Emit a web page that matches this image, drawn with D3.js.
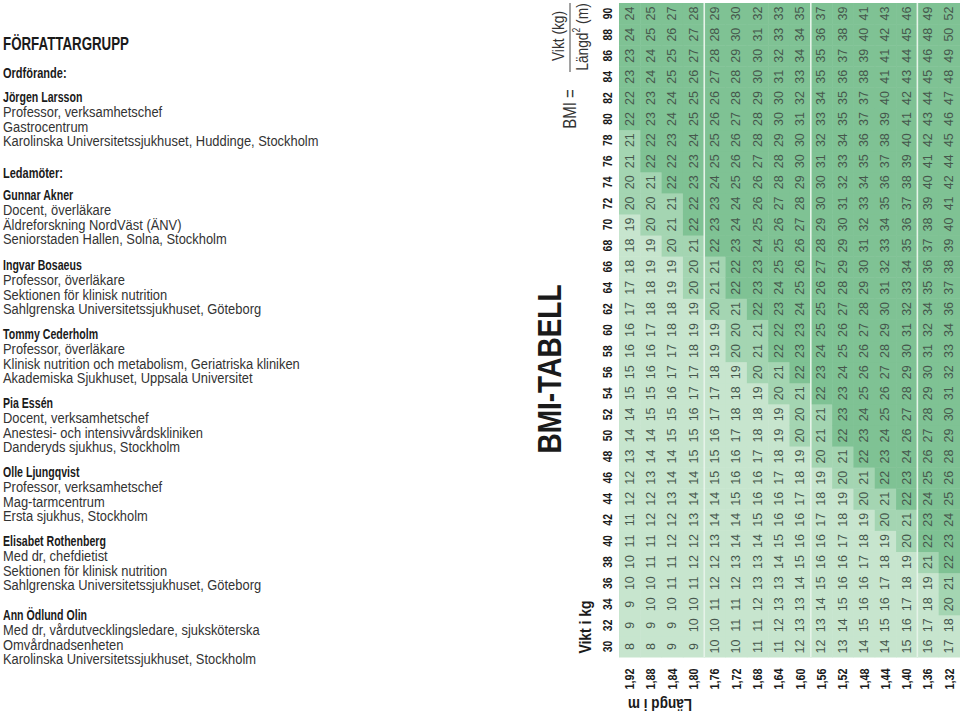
<!DOCTYPE html>
<html><head><meta charset="utf-8">
<script src="https://cdn.jsdelivr.net/npm/d3@7"></script>
<style>
html,body{margin:0;padding:0;background:#fff;}
svg{display:block;}
</style></head><body>
<svg id="c" width="960" height="713"></svg>
<script>
// ---- data ----
const heights = ["1,92","1,88","1,84","1,80","1,76","1,72","1,68","1,64","1,60","1,56","1,52","1,48","1,44","1,40","1,36","1,32"];
const weights = [30,32,34,36,38,40,42,44,46,48,50,52,54,56,58,60,62,64,66,68,70,72,74,76,78,80,82,84,86,88,90];
const r192 = [8,9,9,10,10,11,11,12,12,13,14,14,15,15,16,16,17,17,18,18,19,20,20,21,21,22,22,23,23,24,24];
const r188 = [8,9,10,10,11,11,12,12,13,14,14,15,15,16,16,17,18,18,19,19,20,20,21,22,22,23,23,24,24,25,25];
const r184 = [9,9,10,11,11,12,12,13,14,14,15,15,16,17,17,18,18,19,19,20,21,21,22,22,23,24,24,25,25,26,27];
const r180 = [9,10,10,11,12,12,13,14,14,15,15,16,17,17,18,19,19,20,20,21,22,22,23,23,24,25,25,26,27,27,28];
const r176 = [10,10,11,12,12,13,14,14,15,15,16,17,17,18,19,19,20,21,21,22,23,23,24,25,25,26,26,27,28,28,29];
const r172 = [10,11,11,12,13,14,14,15,16,16,17,18,18,19,20,20,21,22,22,23,24,24,25,26,26,27,28,28,29,30,30];
const r168 = [11,11,12,13,13,14,15,16,16,17,18,18,19,20,21,21,22,23,23,24,25,26,26,27,28,28,29,30,30,31,32];
const r164 = [11,12,13,13,14,15,16,16,17,18,19,19,20,21,22,22,23,24,25,25,26,27,28,28,29,30,30,31,32,33,33];
const r160 = [12,13,13,14,15,16,16,17,18,19,20,20,21,22,23,23,24,25,26,26,27,28,29,30,30,31,32,33,34,34,35];
const r156 = [12,13,14,15,16,16,17,18,19,20,21,21,22,23,24,25,25,26,27,28,29,30,30,31,32,33,34,35,35,36,37];
const r152 = [13,14,15,16,16,17,18,19,20,21,22,23,23,24,25,26,27,28,29,29,30,31,32,33,34,35,35,36,37,38,39];
const r148 = [14,15,16,16,17,18,19,20,21,22,23,24,25,26,26,27,28,29,30,31,32,33,34,35,36,37,37,38,39,40,41];
const r144 = [14,15,16,17,18,19,20,21,22,23,24,25,26,27,28,29,30,31,32,33,34,35,36,37,38,39,40,41,41,42,43];
const r140 = [15,16,17,18,19,20,21,22,23,24,26,27,28,29,30,31,32,33,34,35,36,37,38,39,40,41,42,43,44,45,46];
const r136 = [16,17,18,19,21,22,23,24,25,26,27,28,29,30,31,32,34,35,36,37,38,39,40,41,42,43,44,45,46,48,49];
const r132 = [17,18,20,21,22,23,24,25,26,28,29,30,31,32,33,34,36,37,38,39,40,41,42,44,45,46,47,48,49,50,52];
const bmiRows = [r192,r188,r184,r180,r176,r172,r168,r164,r160,r156,r152,r148,r144,r140,r136,r132];
const bandLimits = [20, 22];
const groupStarts = ["1,76","1,56","1,36"];

const title = "FÖRFATTARGRUPP";
const chairLabel = "Ordförande:";
const memberLabel = "Ledamöter:";
const chair = ["Jörgen Larsson","Professor, verksamhetschef","Gastrocentrum","Karolinska Universitetssjukhuset, Huddinge, Stockholm"];
const members = [
  ["Gunnar Akner","Docent, överläkare","Äldreforskning NordVäst (ÄNV)","Seniorstaden Hallen, Solna, Stockholm"],
  ["Ingvar Bosaeus","Professor, överläkare","Sektionen för klinisk nutrition","Sahlgrenska Universitetssjukhuset, Göteborg"],
  ["Tommy Cederholm","Professor, överläkare","Klinisk nutrition och metabolism, Geriatriska kliniken","Akademiska Sjukhuset, Uppsala Universitet"],
  ["Pia Essén","Docent, verksamhetschef","Anestesi- och intensivvårdskliniken","Danderyds sjukhus, Stockholm"],
  ["Olle Ljungqvist","Professor, verksamhetschef","Mag-tarmcentrum","Ersta sjukhus, Stockholm"],
  ["Elisabet Rothenberg","Med dr, chefdietist","Sektionen för klinisk nutrition","Sahlgrenska Universitetssjukhuset, Göteborg"],
  ["Ann Ödlund Olin","Med dr, vårdutvecklingsledare, sjuksköterska","Omvårdnadsenheten","Karolinska Universitetssjukhuset, Stockholm"]
];

// ---- drawing ----
const SANS = "'Liberation Sans',Arial,sans-serif";
const svg = d3.select("#c");

function leftText(y, txt, size, bold, sx, fill){
  svg.append("text")
    .attr("transform", `translate(3,${y}) scale(${sx},1)`)
    .attr("font-family", SANS).attr("font-size", size)
    .attr("font-weight", bold ? "bold" : "normal")
    .attr("fill", fill).text(txt);
}
leftText(49.5, title, 18, true, 0.74, "#1a1a1a");
leftText(78, chairLabel, 14.5, true, 0.76, "#1a1a1a");
leftText(178, memberLabel, 14.5, true, 0.76, "#1a1a1a");
const blockTops = [102, 200, 270, 339, 408, 477, 546, 620];
const blocks = [chair].concat(members);
blocks.forEach((b,bi)=>{
  b.forEach((line,li)=>{
    const bold = li===0;
    leftText(blockTops[bi] + li*14.8, line, 14.5, bold, bold ? 0.73 : 0.89, bold ? "#1a1a1a" : "#333");
  });
});

// table
const x = d3.scaleBand().domain(heights).range([619, 960]);
const y = d3.scaleBand().domain(weights.slice().reverse()).range([3, 657]);
const color = d3.scaleThreshold().domain(bandLimits).range(["#c7e5ce","#a4d5b2","#7fc294"]);

const cells = [];
heights.forEach((h,i)=>weights.forEach((w,j)=>cells.push({h, w, v: bmiRows[i][j]})));

const tg = svg.append("g");
tg.selectAll("rect.cell").data(cells).join("rect").attr("class","cell")
  .attr("x", d=>x(d.h)).attr("y", d=>y(d.w))
  .attr("width", x.bandwidth()+0.5).attr("height", y.bandwidth()+0.5)
  .attr("fill", d=>color(d.v));

tg.selectAll("line.sep").data(groupStarts).join("line").attr("class","sep")
  .attr("x1", d=>x(d)).attr("x2", d=>x(d)).attr("y1", 3).attr("y2", 657)
  .attr("stroke","#e6f3e9").attr("stroke-width",1.6);

tg.selectAll("text.val").data(cells).join("text").attr("class","val")
  .attr("transform", d=>`translate(${x(d.h)+x.bandwidth()/2},${y(d.w)+y.bandwidth()/2}) rotate(-90)`)
  .attr("text-anchor","middle").attr("dominant-baseline","central")
  .attr("font-family",SANS).attr("font-size",12.5)
  .attr("fill","#46574c").text(d=>d.v);

// weight labels
svg.append("g").selectAll("text").data(weights).join("text")
  .attr("transform", d=>`translate(607,${y(d)+y.bandwidth()/2}) rotate(-90) scale(0.8,1)`)
  .attr("text-anchor","middle").attr("dominant-baseline","central")
  .attr("font-family",SANS).attr("font-size",13).attr("font-weight","bold").attr("fill","#1a1a1a")
  .text(d=>d);

// height labels
svg.append("g").selectAll("text").data(heights).join("text")
  .attr("transform", d=>`translate(${x(d)+x.bandwidth()/2},679) rotate(-90) scale(0.8,1)`)
  .attr("text-anchor","middle").attr("dominant-baseline","central")
  .attr("font-family",SANS).attr("font-size",13.5).attr("font-weight","bold").attr("fill","#1a1a1a")
  .text(d=>d);

// axis titles
svg.append("text").attr("transform","translate(585,627) rotate(-90) scale(0.82,1)")
  .attr("text-anchor","middle").attr("dominant-baseline","central")
  .attr("font-family",SANS).attr("font-size",17).attr("font-weight","bold").attr("fill","#1a1a1a")
  .text("Vikt i kg");
svg.append("text").attr("transform","translate(660,705) rotate(180) scale(0.8,1)")
  .attr("text-anchor","middle").attr("dominant-baseline","central")
  .attr("font-family",SANS).attr("font-size",17).attr("font-weight","bold").attr("fill","#1a1a1a")
  .text("Längd i m");

// heading
svg.append("text").attr("transform","translate(549,369) rotate(-90) scale(0.85,1)")
  .attr("text-anchor","middle").attr("dominant-baseline","central")
  .attr("font-family",SANS).attr("font-size",33).attr("font-weight","bold").attr("fill","#1a1a1a")
  .text("BMI-TABELL");

// formula
const f = svg.append("g").attr("font-family",SANS).attr("fill","#333").attr("font-size",16);
f.append("text").attr("transform","translate(570,109) rotate(-90) scale(0.86,1)")
  .attr("text-anchor","middle").attr("dominant-baseline","central").attr("font-size",17.5).text("BMI =");
f.append("text").attr("transform","translate(558,36) rotate(-90) scale(0.86,1)")
  .attr("text-anchor","middle").attr("dominant-baseline","central").text("Vikt (kg)");
f.append("line").attr("x1",570).attr("x2",570).attr("y1",3).attr("y2",72).attr("stroke","#444").attr("stroke-width",1);
const den = f.append("text").attr("transform","translate(582,37) rotate(-90) scale(0.86,1)")
  .attr("text-anchor","middle").attr("dominant-baseline","central");
den.append("tspan").text("Längd");
den.append("tspan").attr("font-size",10).attr("dy",-5).text("2");
den.append("tspan").attr("dy",5).text(" (m)");
</script>
</body></html>
